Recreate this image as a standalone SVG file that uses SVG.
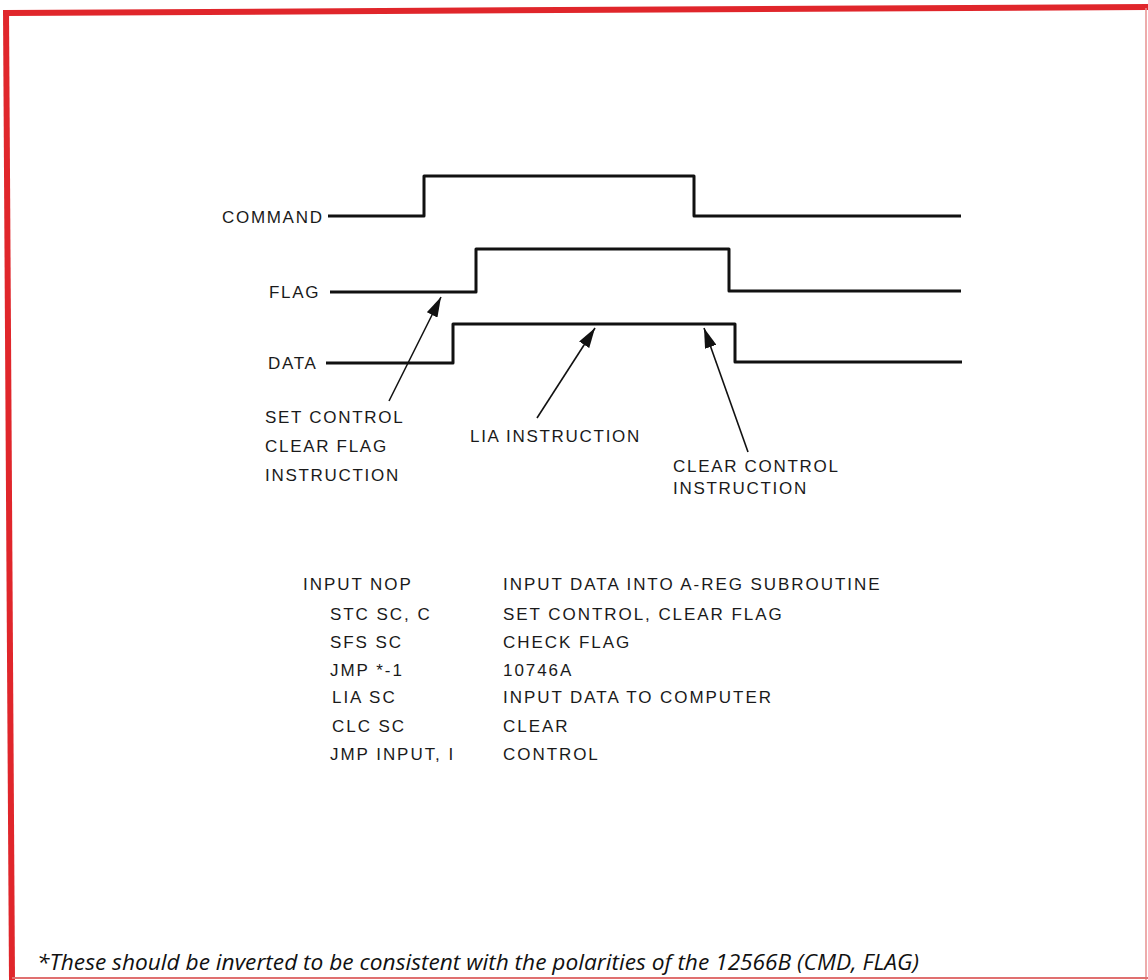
<svg xmlns="http://www.w3.org/2000/svg" width="1148" height="980" viewBox="0 0 1148 980">
<style>
.lbl{font-family:"Liberation Sans",Arial,sans-serif;font-size:17px;letter-spacing:1.7px;fill:#1a1a1a}
.code{font-family:"Liberation Sans",Arial,sans-serif;font-size:17px;letter-spacing:1.95px;fill:#1a1a1a}
.wave{fill:none;stroke:#111;stroke-width:3;stroke-linejoin:round}
.arr{fill:none;stroke:#111;stroke-width:1.6}
.note{font-family:"Open Sans","Liberation Sans",sans-serif;font-style:italic;font-size:22.7px;fill:#111}
</style>
<defs>
<marker id="ah2" viewBox="0 0 20 12" refX="20" refY="6" markerWidth="20" markerHeight="12" markerUnits="userSpaceOnUse" orient="auto">
<path d="M0,0 L20,6 L0,12 Z" fill="#111"/>
</marker>
</defs>
<rect x="0" y="0" width="1148" height="980" fill="#fff"/>
<g id="border" fill="none" stroke="#e0262b">
<path d="M6,13 L1148,7" stroke-width="6"/>
<path d="M6,10 L12,980" stroke-width="6"/>
<path d="M1146,8 L1146,980" stroke-width="1.5" stroke="#e89090"/>
<path d="M12,978 L1148,978" stroke-width="2" stroke="#e07070"/>
</g>
<g id="command">
<text class="lbl" x="222" y="223">COMMAND</text>
<path class="wave" d="M328,216 L424,216 L424,176 L694,176 L694,216 L961,216"/>
</g>
<g id="flag">
<text class="lbl" x="269" y="298">FLAG</text>
<path class="wave" d="M330,292 L476,292 L476,249 L729,249 L729,291 L961,291"/>
</g>
<g id="data">
<text class="lbl" x="268" y="369">DATA</text>
<path class="wave" d="M326,363 L453,363 L453,324 L735,324 L735,362 L962,362"/>
</g>
<g id="connectors">
<line class="arr" x1="389" y1="401" x2="441" y2="297" marker-end="url(#ah2)"/>
<line class="arr" x1="537" y1="418" x2="595" y2="328" marker-end="url(#ah2)"/>
<line class="arr" x1="748" y1="452" x2="704" y2="328" marker-end="url(#ah2)"/>
</g>
<g id="set-control-label">
<text class="lbl" x="265" y="423">SET CONTROL</text>
<text class="lbl" x="265" y="452">CLEAR FLAG</text>
<text class="lbl" x="265" y="481">INSTRUCTION</text>
</g>
<g id="lia-label">
<text class="lbl" x="470" y="442">LIA INSTRUCTION</text>
</g>
<g id="clear-control-label">
<text class="lbl" x="673" y="472">CLEAR CONTROL</text>
<text class="lbl" x="673" y="494">INSTRUCTION</text>
</g>
<g id="code">
<text class="code" x="303" y="590">INPUT NOP</text>
<text class="code" x="330" y="620">STC SC, C</text>
<text class="code" x="330" y="648">SFS SC</text>
<text class="code" x="330" y="676">JMP *-1</text>
<text class="code" x="332" y="703">LIA SC</text>
<text class="code" x="332" y="732">CLC SC</text>
<text class="code" x="330" y="760">JMP INPUT, I</text>
<text class="code" x="503" y="590">INPUT DATA INTO A-REG SUBROUTINE</text>
<text class="code" x="503" y="620">SET CONTROL, CLEAR FLAG</text>
<text class="code" x="503" y="648">CHECK FLAG</text>
<text class="code" x="503" y="676">10746A</text>
<text class="code" x="503" y="703">INPUT DATA TO COMPUTER</text>
<text class="code" x="503" y="732">CLEAR</text>
<text class="code" x="503" y="760">CONTROL</text>
</g>
<text class="note" x="37" y="970">*These should be inverted to be consistent with the polarities of the 12566B (CMD, FLAG)</text>
</svg>
